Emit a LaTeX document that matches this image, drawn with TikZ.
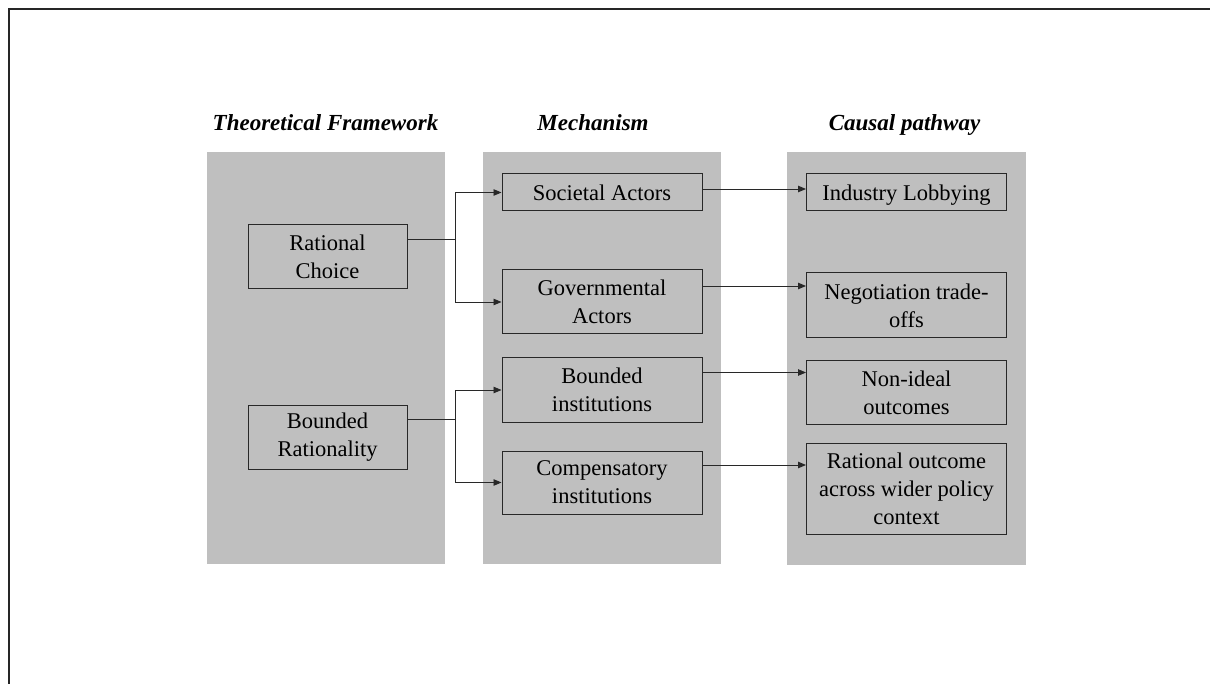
\documentclass[tikz,border=0pt]{standalone}
\usepackage{fontspec}
\setmainfont{Liberation Serif}
\usetikzlibrary{arrows.meta,calc}
\definecolor{panelgray}{RGB}{191,191,191}
\definecolor{linegray}{RGB}{40,40,40}
\begin{document}
\begin{tikzpicture}[x=1pt,y=-1pt,
  box/.style={draw=linegray,line width=1pt,fill=panelgray,align=center,inner sep=0pt,font=\fontsize{22.5}{28}\selectfont},
  onebox/.style={box,text depth=0pt},
  head/.style={font=\fontsize{23}{27}\selectfont\bfseries\itshape,anchor=base,inner sep=0pt},
  arr/.style={draw=linegray,line width=0.9pt,-{Triangle[length=8pt,width=6.5pt]}},
  ]
\useasboundingbox (0,0) rectangle (1210,684);
\fill[white] (0,0) rectangle (1210,684);
\draw[line width=2pt, black!85] (8.5,684) -- (8.5,9.5) -- (1210,9.5);

% panels
\fill[panelgray] (207,152) rectangle (445,564);
\fill[panelgray] (483,152) rectangle (721,564);
\fill[panelgray] (787,152) rectangle (1026,565);

% headings
\node[head] (h1) at (325.5,131) {Theoretical Framework};
\node[head] (h2) at (593,131) {Mechanism};
\node[head] (h3) at (904.5,131) {Causal pathway};

% left column
\node[box,minimum width=159pt,minimum height=64pt] (rc) at (327.5,257) {Rational\\Choice};
\node[box,minimum width=159pt,minimum height=64pt] (br) at (327.5,437) {Bounded\\Rationality};

% middle column
\node[onebox,minimum width=200pt,minimum height=37pt] (sa) at (602,192.5) {Societal Actors};
\node[box,minimum width=200pt,minimum height=64pt] (ga) at (602,302) {Governmental\\Actors};
\node[box,minimum width=200pt,minimum height=64pt] (bi) at (602,390) {Bounded\\institutions};
\node[box,minimum width=200pt,minimum height=63pt] (ci) at (602,482.5) {Compensatory\\institutions};

% right column
\node[onebox,minimum width=200pt,minimum height=37pt] (il) at (906.5,192.5) {Industry Lobbying};
\node[box,minimum width=200pt,minimum height=65pt] (nt) at (906.5,305.5) {Negotiation trade-\\offs};
\node[box,minimum width=200pt,minimum height=64pt] (ni) at (906.5,392.5) {Non-ideal\\outcomes};
\node[box,minimum width=200pt,minimum height=91pt] (ro) at (906.5,488.5) {Rational outcome\\across wider policy\\context};

% connectors left -> middle
\draw[arr] ([yshift=18pt]rc.east) -- ++(48,0) |- (sa.west);
\draw[arr] ([yshift=18pt]rc.east) -- ++(48,0) |- (ga.west);
\draw[arr] ([yshift=17.5pt]br.east) -- ++(48,0) |- (bi.west);
\draw[arr] ([yshift=17.5pt]br.east) -- ++(48,0) |- (ci.west);

% connectors middle -> right
\draw[arr] ([yshift=3.5pt]sa.east) -- ([yshift=3.5pt]sa.east -| il.west);
\draw[arr] ([yshift=16pt]ga.east) -- ([yshift=16pt]ga.east -| nt.west);
\draw[arr] ([yshift=17.5pt]bi.east) -- ([yshift=17.5pt]bi.east -| ni.west);
\draw[arr] ([yshift=17.5pt]ci.east) -- ([yshift=17.5pt]ci.east -| ro.west);
\end{tikzpicture}
\end{document}
